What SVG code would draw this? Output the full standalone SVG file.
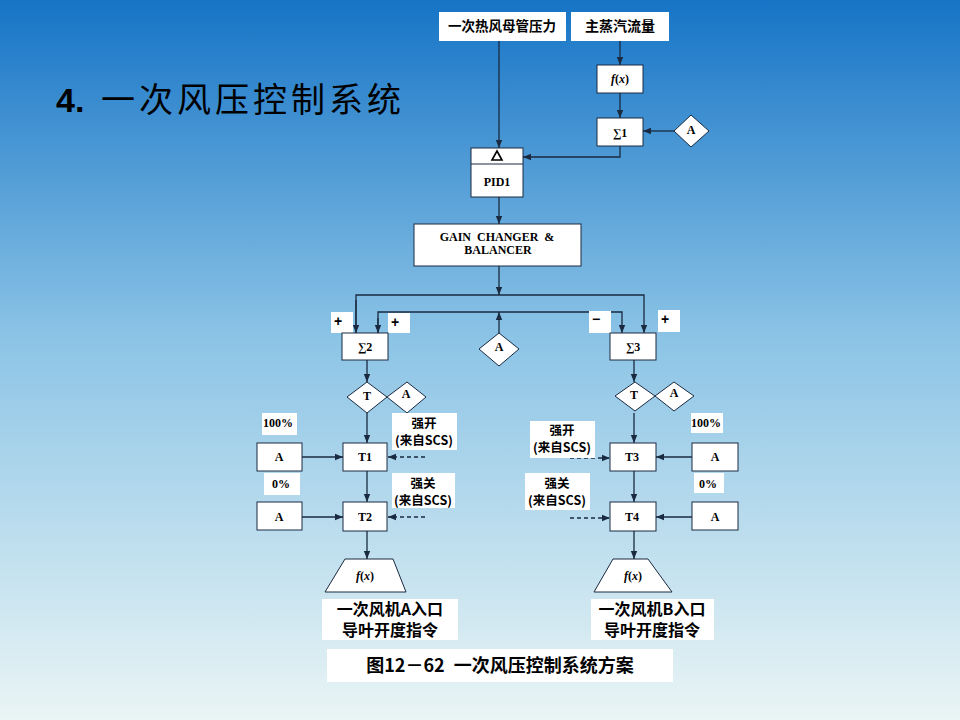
<svg xmlns="http://www.w3.org/2000/svg" width="960" height="720" viewBox="0 0 960 720">
<defs>
<linearGradient id="bg" x1="0" y1="0" x2="0" y2="1">
<stop offset="0" stop-color="#1674c6"/>
<stop offset="0.47" stop-color="#8cc4e6"/>
<stop offset="1" stop-color="#eaf5f5"/>
</linearGradient>
<marker id="ar" viewBox="0 0 10 10" refX="10" refY="5" markerWidth="8" markerHeight="8" markerUnits="userSpaceOnUse" orient="auto">
<path d="M0,1 L10,5 L0,9 z" fill="#1a2a40"/>
</marker>
</defs>
<style>
.box{fill:#fff;stroke:#1a2a40;stroke-width:1}
.wb{fill:#fff;stroke:none}
.t{font-family:"Liberation Serif","Times New Roman",serif;font-weight:bold;font-size:12px;fill:#000;text-anchor:middle}
.c{font-family:"Noto Sans CJK SC","Noto Sans",sans-serif;font-weight:bold;fill:#000;text-anchor:middle}
.s{font-family:"Liberation Sans",Arial,sans-serif;font-weight:bold;font-size:14px;fill:#000;text-anchor:middle}
.ln{fill:none;stroke:#1a2a40;stroke-width:1.3}
.ds{fill:none;stroke:#1a2a40;stroke-width:1.3;stroke-dasharray:4,3}
</style>
<rect x="0" y="0" width="960" height="720" fill="url(#bg)"/>
<text x="56" y="112" font-family="Liberation Sans,Arial,sans-serif" font-weight="bold" font-size="34" fill="#000">4.</text>
<text x="101" y="112" font-family="Noto Sans CJK SC,sans-serif" font-size="34" letter-spacing="4" fill="#000">一次风压控制系统</text>

<g id="connectors">
<line class="ln" x1="499" y1="41" x2="499" y2="148" marker-end="url(#ar)"/>
<line class="ln" x1="620" y1="41" x2="620" y2="65" marker-end="url(#ar)"/>
<line class="ln" x1="620" y1="93" x2="620" y2="118" marker-end="url(#ar)"/>
<line class="ln" x1="674" y1="131" x2="643" y2="131" marker-end="url(#ar)"/>
<polyline class="ln" points="620,146 620,157 523,157" marker-end="url(#ar)"/>
<line class="ln" x1="499" y1="197" x2="499" y2="224" marker-end="url(#ar)"/>
<line class="ln" x1="499" y1="266" x2="499" y2="295" marker-end="url(#ar)"/>
<polyline class="ln" points="356,333 356,295 644,295 644,333" marker-end="url(#ar)"/>
<line class="ln" x1="356" y1="300" x2="356" y2="333" marker-end="url(#ar)"/>
<polyline class="ln" points="378,333 378,312 622,312 622,333" marker-end="url(#ar)"/>
<line class="ln" x1="378" y1="318" x2="378" y2="333" marker-end="url(#ar)"/>
<line class="ln" x1="499" y1="333" x2="499" y2="312" marker-end="url(#ar)"/>
<line class="ln" x1="367" y1="360" x2="367" y2="382" marker-end="url(#ar)"/>
<line class="ln" x1="634" y1="360" x2="634" y2="382" marker-end="url(#ar)"/>
<line class="ln" x1="367" y1="413" x2="367" y2="443" marker-end="url(#ar)"/>
<line class="ln" x1="634" y1="413" x2="634" y2="443" marker-end="url(#ar)"/>
<line class="ln" x1="367" y1="471" x2="367" y2="502" stroke-width="2" marker-end="url(#ar)"/>
<line class="ln" x1="634" y1="471" x2="634" y2="502" marker-end="url(#ar)"/>
<line class="ln" x1="302" y1="457" x2="343" y2="457" marker-end="url(#ar)"/>
<line class="ln" x1="302" y1="517" x2="343" y2="517" marker-end="url(#ar)"/>
<line class="ln" x1="692" y1="457" x2="656" y2="457" marker-end="url(#ar)"/>
<line class="ln" x1="692" y1="517" x2="656" y2="517" marker-end="url(#ar)"/>
<line class="ds" x1="425" y1="457" x2="388" y2="457" marker-end="url(#ar)"/>
<line class="ds" x1="425" y1="517" x2="388" y2="517" marker-end="url(#ar)"/>
<line class="ds" x1="570" y1="458" x2="610" y2="458" marker-end="url(#ar)"/>
<line class="ds" x1="570" y1="518" x2="610" y2="518" marker-end="url(#ar)"/>
<line class="ln" x1="367" y1="531" x2="367" y2="559" marker-end="url(#ar)"/>
<line class="ln" x1="634" y1="531" x2="634" y2="559" marker-end="url(#ar)"/>
</g>

<g id="in1"><rect class="wb" x="439" y="12" width="127" height="29"/><text class="c" x="502" y="31" font-size="13.5">一次热风母管压力</text></g>
<g id="in2"><rect class="wb" x="571" y="12" width="98" height="29"/><text class="c" x="620" y="31" font-size="14">主蒸汽流量</text></g>
<g id="fx1"><rect class="box" x="597" y="65" width="46" height="28"/><text class="t" x="620" y="83" font-style="italic">f<tspan font-style="normal">(</tspan>x<tspan font-style="normal">)</tspan></text></g>
<g id="sum1"><rect class="box" x="597" y="118" width="46" height="28"/><text class="t" x="620" y="137" font-size="13">∑1</text></g>
<g id="a1"><polygon class="box" points="691,115 709,131 691,147 674,131"/><text class="t" x="691" y="134" font-size="11">A</text></g>
<g id="pid1"><rect class="box" x="471" y="148" width="52" height="49"/><line x1="471" y1="164" x2="523" y2="164" stroke="#1a2a40" stroke-width="1"/><polygon points="492,160 497,151 502,160" fill="none" stroke="#000" stroke-width="1.6"/><text class="t" x="497" y="186" font-size="11">PID1</text></g>
<g id="gain"><rect class="box" x="414" y="224" width="167" height="42"/><text class="t" x="497" y="241" font-size="10.5" word-spacing="3">GAIN CHANGER &amp;</text><text class="t" x="498" y="254" font-size="10.5">BALANCER</text></g>
<g id="p1"><rect class="wb" x="331" y="312" width="22" height="21"/><text class="s" x="338" y="326">+</text></g>
<g id="p2"><rect class="wb" x="388" y="313" width="22" height="20"/><text class="s" x="395" y="327">+</text></g>
<g id="m3"><rect class="wb" x="589" y="311" width="22" height="22"/><text class="s" x="596" y="324">−</text></g>
<g id="p4"><rect class="wb" x="658" y="310" width="22" height="22"/><text class="s" x="665" y="324">+</text></g>
<g id="sum2"><rect class="box" x="342" y="333" width="46" height="27"/><text class="t" x="365" y="351" font-size="13">∑2</text></g>
<g id="sum3"><rect class="box" x="610" y="333" width="46" height="27"/><text class="t" x="633" y="351" font-size="13">∑3</text></g>
<g id="a2"><polygon class="box" points="499,333 519,349 499,366 479,349"/><text class="t" x="499" y="351" font-size="11">A</text></g>
<g id="tl"><polygon class="box" points="367,382 387,397 367,413 347,397"/><text class="t" x="367" y="400" font-size="11">T</text></g>
<g id="al"><polygon class="box" points="407,382 426,397 407,413 387,397"/><text class="t" x="406" y="398" font-size="11">A</text></g>
<g id="tr"><polygon class="box" points="635,382 655,396 635,411 615,396"/><text class="t" x="634" y="399" font-size="11">T</text></g>
<g id="ar2"><polygon class="box" points="674,382 694,396 674,411 655,396"/><text class="t" x="674" y="397" font-size="11">A</text></g>
<g id="l100"><rect class="wb" x="262" y="413" width="35" height="22"/><text class="t" x="278" y="427" font-size="11">100%</text></g>
<g id="l0"><rect class="wb" x="264" y="473" width="36" height="22"/><text class="t" x="281" y="488" font-size="12">0%</text></g>
<g id="r100"><rect class="wb" x="691" y="413" width="32" height="20"/><text class="t" x="706" y="427" font-size="11">100%</text></g>
<g id="r0"><rect class="wb" x="694" y="473" width="30" height="20"/><text class="t" x="708" y="488" font-size="12">0%</text></g>
<g id="aL1"><rect class="box" x="257" y="443" width="45" height="28"/><text class="t" x="279" y="461">A</text></g>
<g id="aL2"><rect class="box" x="257" y="502" width="45" height="28"/><text class="t" x="279" y="521">A</text></g>
<g id="aR1"><rect class="box" x="692" y="443" width="46" height="28"/><text class="t" x="715" y="461">A</text></g>
<g id="aR2"><rect class="box" x="692" y="502" width="46" height="28"/><text class="t" x="715" y="521">A</text></g>
<g id="t1"><rect class="box" x="343" y="443" width="44" height="28"/><text class="t" x="365" y="461">T1</text></g>
<g id="t2"><rect class="box" x="343" y="502" width="44" height="29"/><text class="t" x="365" y="521">T2</text></g>
<g id="t3"><rect class="box" x="610" y="443" width="46" height="28"/><text class="t" x="632" y="461">T3</text></g>
<g id="t4"><rect class="box" x="610" y="502" width="46" height="29"/><text class="t" x="632" y="521">T4</text></g>
<g id="qkL"><rect class="wb" x="392" y="413" width="65" height="37"/><text class="c" x="424" y="428" font-size="12.5">强开</text><text class="c" x="424" y="445" font-size="12.5">(来自SCS)</text></g>
<g id="qgL"><rect class="wb" x="392" y="473" width="63" height="35"/><text class="c" x="423" y="488" font-size="12.5">强关</text><text class="c" x="423" y="505" font-size="12.5">(来自SCS)</text></g>
<g id="qkR"><rect class="wb" x="530" y="421" width="65" height="37"/><text class="c" x="562" y="435" font-size="12.5">强开</text><text class="c" x="562" y="452" font-size="12.5">(来自SCS)</text></g>
<g id="qgR"><rect class="wb" x="525" y="473" width="65" height="37"/><text class="c" x="557" y="488" font-size="12.5">强关</text><text class="c" x="557" y="505" font-size="12.5">(来自SCS)</text></g>
<g id="fxL"><polygon class="box" points="345,559 393,559 406,592 325,592"/><text class="t" x="365" y="580" font-style="italic" font-weight="normal">f<tspan font-style="normal">(</tspan>x<tspan font-style="normal">)</tspan></text></g>
<g id="fxR"><polygon class="box" points="613,559 648,559 672,592 594,592"/><text class="t" x="633" y="580" font-style="italic" font-weight="normal">f<tspan font-style="normal">(</tspan>x<tspan font-style="normal">)</tspan></text></g>
<g id="outL"><rect class="wb" x="322" y="599" width="136" height="41"/><text class="c" x="390" y="615" font-size="16">一次风机A入口</text><text class="c" x="390" y="636" font-size="16">导叶开度指令</text></g>
<g id="outR"><rect class="wb" x="591" y="599" width="123" height="41"/><text class="c" x="652" y="615" font-size="16">一次风机B入口</text><text class="c" x="652" y="636" font-size="16">导叶开度指令</text></g>
<g id="caption"><rect class="wb" x="327" y="649" width="346" height="33"/><text class="c" x="500" y="672" font-size="18">图12－62<tspan dx="9">一次风压控制系统方案</tspan></text></g>
</svg>
